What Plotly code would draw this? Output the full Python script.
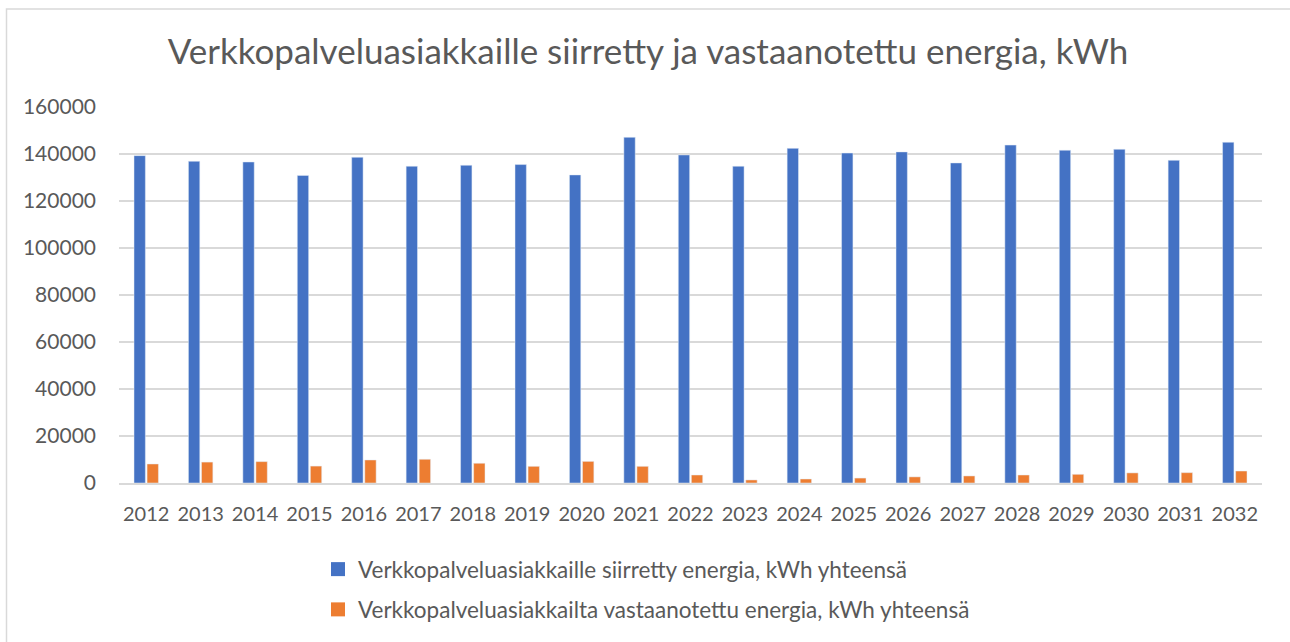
import plotly.graph_objects as go

years = [str(y) for y in range(2012, 2033)]
siirretty = [139300, 136900, 136600, 130900, 138600, 134800, 135200, 135500, 131100, 147100,
             139600, 134800, 142400, 140400, 140900, 136200, 143800, 141600, 142000, 137300, 145000]
vastaanotettu = [8100, 8900, 9100, 7200, 9800, 10100, 8400, 7100, 9200, 7100,
                 3400, 1300, 1700, 2100, 2600, 3000, 3400, 3700, 4300, 4400, 5100]
name1 = "Verkkopalveluasiakkaille siirretty energia, kWh yhteensä"
name2 = "Verkkopalveluasiakkailta vastaanotettu energia, kWh yhteensä"
title = "Verkkopalveluasiakkaille siirretty ja vastaanotettu energia, kWh"
y_ticks = list(range(0, 160001, 20000))

TXT = "#595959"
FONT = "Lato"
C1, C2 = "#4472C4", "#ED7D31"

fig = go.Figure()
fig.add_trace(go.Bar(x=years, y=siirretty, name=name1, marker=dict(color=C1), showlegend=False))
fig.add_trace(go.Bar(x=years, y=vastaanotettu, name=name2, marker=dict(color=C2), showlegend=False))
# legend entries with square markers
fig.add_trace(go.Scatter(x=[None], y=[None], mode="markers", name=name1, legendgroup="a",
                         marker=dict(symbol="square", size=14, color=C1)))
fig.add_trace(go.Scatter(x=[None], y=[None], mode="markers", name=name2, legendgroup="b",
                         marker=dict(symbol="square", size=14, color=C2)))

W, H = 1290, 642
L, R, T, B = 119, 1262, 106.7, 483
pw, ph = R - L, B - T

def px(x):
    return (x - L) / pw

def py(y):
    return (B - y) / ph

fig.add_shape(type="rect", xref="paper", yref="paper",
              x0=px(6.5), x1=px(1310), y0=py(670), y1=py(8.5),
              line=dict(color="#d9d9d9", width=1.5), fillcolor="rgba(0,0,0,0)", layer="below")

fig.update_layout(
    width=W, height=H,
    margin=dict(l=L, r=W - R, t=T, b=H - B, autoexpand=False),
    paper_bgcolor="white", plot_bgcolor="white",
    barmode="group", bargap=0.52, bargroupgap=0.13,
    font=dict(family=FONT, color=TXT, size=20),
    title=dict(text=title, x=648 / W, xref="container", xanchor="center",
               y=1 - 52 / H, yref="container", yanchor="middle",
               font=dict(family=FONT, size=35, color=TXT)),
    xaxis=dict(type="category", showgrid=False, showline=True, linecolor="#d9d9d9", linewidth=1.5,
               ticks="", tickangle=0, tickfont=dict(size=20, color=TXT), ticklabelstandoff=12,
               automargin=False),
    yaxis=dict(range=[0, 160000], tickvals=y_ticks, ticktext=[str(v) for v in y_ticks],
               showgrid=True, gridcolor="#d9d9d9", gridwidth=1.5, zeroline=False,
               showline=False, ticks="", tickfont=dict(size=21, color=TXT),
               ticklabelstandoff=22, automargin=False),
    legend=dict(orientation="v", x=318 / W, xanchor="left", xref="container",
                y=(H - 548) / H, yanchor="top", yref="container",
                font=dict(size=22.5, color=TXT), tracegroupgap=8,
                itemwidth=30, bgcolor="rgba(0,0,0,0)"),
    showlegend=True,
)

fig.write_html("out.html", config={"displayModeBar": False},
               post_script="document.body.style.margin='0';document.body.style.overflow='hidden';")
